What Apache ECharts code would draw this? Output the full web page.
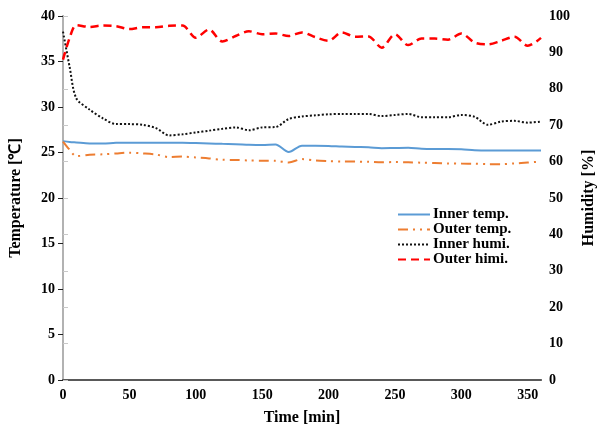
<!DOCTYPE html>
<html>
<head>
<meta charset="utf-8">
<script src="https://cdn.jsdelivr.net/npm/echarts@6/dist/echarts.min.js"></script>
<style>
    html, body { margin: 0; padding: 0; background: #fff; }
    #chart { width: 599px; height: 427px; }
</style>
</head>
<body>
<div id="chart"></div>
<script>
// time in minutes
const times = [0, 5, 10, 20, 30, 40, 50, 60, 70, 80, 90, 100, 110, 120, 130, 140, 150, 160, 170, 180,
    190, 200, 210, 220, 230, 240, 250, 260, 270, 280, 290, 300, 310, 320, 330, 340, 350, 360];

// temperature [℃]
const innerTemp = [26.25, 26.15, 26.1, 26.0, 25.98, 26.07, 26.08, 26.08, 26.08, 26.08, 26.08, 26.05, 26.0, 25.95,
    25.92, 25.85, 25.82, 25.88, 25.05, 25.75, 25.75, 25.72, 25.65, 25.6, 25.58, 25.48, 25.5, 25.52, 25.4,
    25.38, 25.38, 25.35, 25.25, 25.22, 25.22, 25.22, 25.22, 25.22];
const outerTemp = [26.2, 25.3, 24.6, 24.75, 24.8, 24.9, 24.98, 24.9, 24.78, 24.5, 24.55, 24.45, 24.35, 24.2,
    24.18, 24.12, 24.1, 24.08, 23.9, 24.28, 24.12, 24.05, 24.0, 24.0, 23.98, 23.92, 23.95, 23.92, 23.88,
    23.85, 23.8, 23.78, 23.77, 23.72, 23.72, 23.8, 23.9, 24.0];

// humidity [%]
const innerHumi = [95.7, 86, 77.4, 74.3, 71.9, 70.3, 70.3, 70.1, 69.2, 67.2, 67.5, 68, 68.5, 69, 69.4, 68.6,
    69.4, 69.5, 71.7, 72.4, 72.7, 73, 73.1, 73.1, 73.1, 72.5, 72.8, 73.1, 72.2, 72.2, 72.2, 72.8, 72.3,
    70.1, 71, 71.2, 70.7, 71];
const outerHumi = [88, 94, 97.5, 97, 97.4, 97.2, 96.4, 96.9, 96.9, 97.3, 97.4, 94, 96.3, 93, 94.5, 95.8, 95,
    95.2, 94.5, 95.5, 94.2, 93.2, 95.5, 94.3, 94.4, 91.3, 95, 92, 93.8, 93.8, 93.5, 95.2, 92.7, 92.2,
    93.2, 94.3, 91.8, 94];

const font = 'Liberation Serif';
const nameStyle = { fontFamily: font, fontWeight: 'bold', fontSize: 16, color: '#000' };
const labelStyle = { fontFamily: font, fontWeight: 'bold', fontSize: 14, color: '#000' };

function pairs(values) {
    return times.map((t, i) => [t, values[i]]);
}

const chart = echarts.init(document.getElementById('chart'));

chart.setOption({
    animation: false,
    textStyle: { fontFamily: font },
    grid: { left: 63, right: 58, top: 16, bottom: 47, containLabel: false, outerBoundsMode: 'none' },
    legend: {
        orient: 'vertical',
        left: 397,
        top: 207,
        padding: 0,
        itemGap: 0,
        itemWidth: 32,
        itemHeight: 15,
        itemStyle: { opacity: 0 },
        textStyle: { fontFamily: font, fontWeight: 'bold', fontSize: 15, color: '#000', padding: [0, 0, 0, -2] },
        data: ['Inner temp.', 'Outer temp.', 'Inner humi.', 'Outer himi.']
    },
    xAxis: [
        {
            type: 'value',
            min: 0,
            max: 360,
            interval: 50,
            name: 'Time [min]',
            nameLocation: 'middle',
            nameGap: 30,
            nameTextStyle: nameStyle,
            axisLine: { lineStyle: { color: '#595959', width: 2 } },
            axisTick: { show: false },
            splitLine: { show: false },
            axisLabel: Object.assign({ showMaxLabel: false, margin: 8 }, labelStyle)
        },
        {
            // top border
            type: 'value',
            position: 'top',
            min: 0,
            max: 360,
            axisLine: { show: true, lineStyle: { color: '#595959', width: 1.5 } },
            axisTick: { show: false },
            axisLabel: { show: false },
            splitLine: { show: false }
        }
    ],
    yAxis: [
        {
            type: 'value',
            min: 0,
            max: 40,
            interval: 5,
            name: 'Temperature [℃]',
            nameLocation: 'middle',
            nameRotate: 90,
            nameGap: 39,
            nameTextStyle: nameStyle,
            axisLine: { show: true, lineStyle: { color: '#222', width: 1.5 } },
            axisTick: { show: true, length: 5, lineStyle: { color: '#222' } },
            splitLine: { show: false },
            axisLabel: Object.assign({ margin: 8 }, labelStyle)
        },
        {
            type: 'value',
            min: 0,
            max: 100,
            interval: 10,
            position: 'right',
            name: 'Humidity [%]',
            nameLocation: 'middle',
            nameRotate: 90,
            nameGap: 36,
            nameTextStyle: nameStyle,
            axisLine: { show: true, lineStyle: { color: '#d0d0d0', width: 1.5 } },
            axisTick: { show: true, length: 5, lineStyle: { color: '#c8c8c8' } },
            splitLine: { show: false },
            axisLabel: Object.assign({ margin: 8 }, labelStyle)
        }
    ],
    series: [
        {
            name: 'Inner temp.',
            type: 'line',
            yAxisIndex: 0,
            smooth: 0.3,
            symbol: 'none',
            lineStyle: { color: '#5b9bd5', width: 2 },
            itemStyle: { color: '#5b9bd5' },
            data: pairs(innerTemp)
        },
        {
            name: 'Outer temp.',
            type: 'line',
            yAxisIndex: 0,
            smooth: 0.3,
            symbol: 'none',
            lineStyle: { color: '#ed7d31', width: 2, type: [10, 5, 2, 5, 2, 5] },
            itemStyle: { color: '#ed7d31' },
            data: pairs(outerTemp)
        },
        {
            name: 'Inner humi.',
            type: 'line',
            yAxisIndex: 1,
            smooth: 0.3,
            symbol: 'none',
            lineStyle: { color: '#111', width: 2, type: [2, 2] },
            itemStyle: { color: '#111' },
            data: pairs(innerHumi)
        },
        {
            name: 'Outer himi.',
            type: 'line',
            yAxisIndex: 1,
            smooth: 0.3,
            symbol: 'none',
            lineStyle: { color: '#ff0000', width: 2.5, type: [8, 5] },
            itemStyle: { color: '#ff0000' },
            data: pairs(outerHumi)
        }
    ]
});
</script>
</body>
</html>
